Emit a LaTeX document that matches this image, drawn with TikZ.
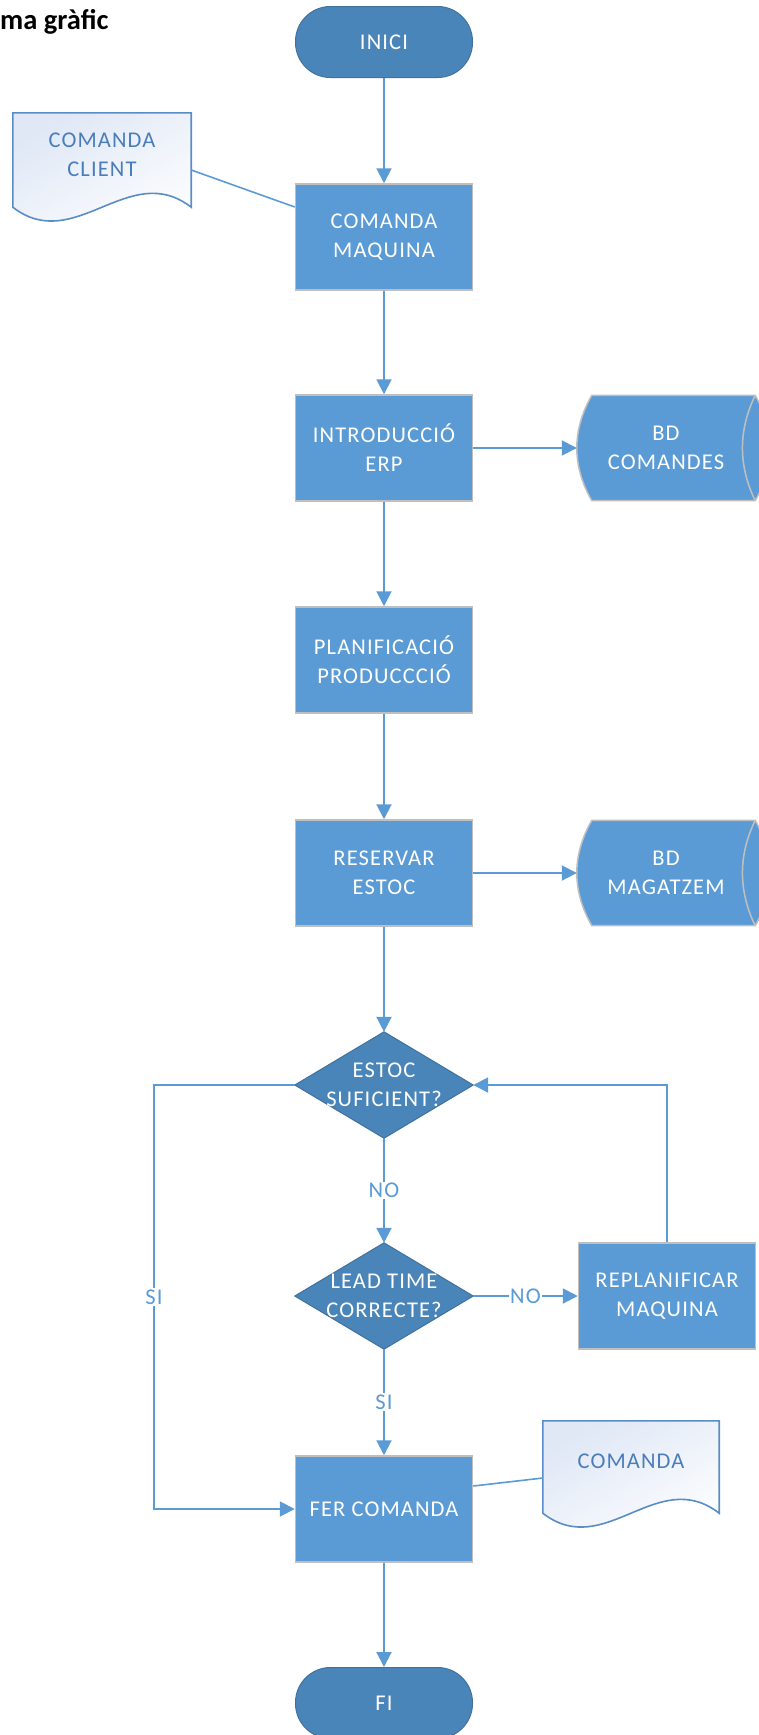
\documentclass[tikz,border=0pt]{standalone}
\usepackage{fontspec}
\setmainfont{Carlito}[LetterSpace=5]
\newfontfamily\headfont{Carlito}[LetterSpace=0]
\usetikzlibrary{arrows.meta,calc,backgrounds}

\definecolor{boxblue}{HTML}{5B9BD5}
\definecolor{darkblue}{HTML}{4A85BA}
\definecolor{edgeblue}{HTML}{41719C}
\definecolor{rimgray}{HTML}{BFBFBF}
\definecolor{doctext}{HTML}{4A7EBB}
\definecolor{docfill}{HTML}{E0E8F6}
\definecolor{docline}{HTML}{5A8DC8}

\newcommand\boxfont{\fontsize{22.5}{29}\selectfont}

\tikzset{
  proc/.style={rectangle, fill=boxblue, draw=rimgray, line width=1.5pt,
    minimum width=177pt, minimum height=106pt, inner sep=0pt,
    text=white, align=center, font=\boxfont},
  term/.style={rectangle, rounded corners=35pt, fill=darkblue, draw=edgeblue,
    line width=1pt, minimum width=177pt, minimum height=71pt, inner sep=0pt,
    text=white, align=center, font=\boxfont},
  deci/.style={rectangle, minimum width=178pt, minimum height=106pt,
    inner sep=0pt, text=white, align=center, font=\boxfont},
  decishape/.style={fill=darkblue, draw=edgeblue, line width=1pt},
  docnode/.style={rectangle, inner sep=0pt, text=doctext, align=center,
    font=\boxfont},
  docshape/.style={draw=docline, line width=1.6pt, top color=docfill,
    bottom color=white, shading angle=30},
  cylnode/.style={rectangle, inner sep=0pt, minimum width=178pt,
    minimum height=105pt, text=white, align=center, font=\boxfont},
  cylshape/.style={fill=boxblue, draw=rimgray, line width=1.5pt},
  arr/.style={draw=boxblue, line width=2pt, -{Triangle[length=15pt,width=15pt]}},
  link/.style={draw=boxblue, line width=1.6pt},
  lab/.style={fill=white, text=boxblue, inner sep=1.5pt, font=\boxfont},
}

\begin{document}
\begin{tikzpicture}[x=1pt, y=-1pt]
\useasboundingbox (0,0) rectangle (759,1735);

% heading
\node[anchor=base west, inner sep=0pt, font=\headfont\fontsize{28.5}{32}\selectfont\bfseries]
  (title) at (0,29) {ma gràfic};

% main column
\node[term] (inici) at (384,42)   {INICI};
\node[proc] (cm)    at (384,237)  {COMANDA\\MAQUINA};
\node[proc] (ie)    at (384,448)  {INTRODUCCIÓ\\ERP};
\node[proc] (pp)    at (384,660)  {PLANIFICACIÓ\\PRODUCCCIÓ};
\node[proc] (re)    at (384,873)  {RESERVAR\\ESTOC};
\node[deci] (d1)    at (384,1085) {ESTOC\\SUFICIENT?};
\node[deci] (d2)    at (384,1296) {LEAD TIME\\CORRECTE?};
\node[proc] (fc)    at (384,1509) {FER COMANDA};
\node[term] (fi)    at (384,1703) {FI};

% side elements
\node[proc] (rp) at (667,1296) {REPLANIFICAR\\MAQUINA};
\node[cylnode] (bdc) at (666,448) {BD\\COMANDES};
\node[cylnode] (bdm) at (666,873) {BD\\MAGATZEM};
\node[docnode, minimum width=178pt, minimum height=84pt] (cc) at (102,155) {COMANDA\\CLIENT};
\node[docnode, minimum width=176pt, minimum height=80pt] (co) at (631,1461) {COMANDA};

\coordinate (lx) at (154,0);

% outlines behind the texts
\begin{scope}[on background layer]
  \foreach \d in {d1,d2}{
    \path[decishape] (\d.north) -- (\d.east) -- (\d.south) -- (\d.west) -- cycle;
  }
  \foreach \c in {bdc,bdm}{
    \path[cylshape] ($(\c.north west)+(15,0)$) -- (\c.north east)
      .. controls +(20,35) and +(20,-35) .. (\c.south east)
      -- ($(\c.south west)+(15,0)$)
      .. controls +(-20,-35) and +(-20,35) .. ($(\c.north west)+(15,0)$) -- cycle;
    \draw[rimgray, line width=1.5pt] (\c.north east)
      .. controls +(-17,35) and +(-17,-35) .. (\c.south east);
  }
  \path[docshape] (cc.north west) -- (cc.north east) -- ([yshift=-10pt]cc.south east)
    .. controls +(-62,-48) and +(62,48) .. ([yshift=-10pt]cc.south west) -- cycle;
  \path[docshape] (co.north west) -- (co.north east) -- ([yshift=-12pt]co.south east)
    .. controls +(-62,-48) and +(62,48) .. ([yshift=-12pt]co.south west) -- cycle;
\end{scope}

% connectors
\draw[arr] (inici) -- (cm);
\draw[arr] (cm) -- (ie);
\draw[arr] (ie) -- (pp);
\draw[arr] (pp) -- (re);
\draw[arr] (re) -- (d1);
\draw[arr] (d1) -- node[lab] {NO} (d2);
\draw[arr] (d2) -- node[lab] {SI} (fc);
\draw[arr] (fc) -- (fi);
\draw[arr] (ie.east) -- (bdc.west);
\draw[arr] (re.east) -- (bdm.west);
\draw[arr] (d2.east) -- node[lab] {NO} (rp.west);
\draw[arr] (rp.north) |- (d1.east);
\draw[arr] (d1.west) -- (d1.west -| lx) -- node[lab] {SI} (fc.west -| lx) -- (fc.west);
\draw[link] ([yshift=-15pt]cc.east) -- ([yshift=30pt]cm.west);
\draw[link] ([yshift=-17pt]co.west) -- ([yshift=23pt]fc.east);
\end{tikzpicture}
\end{document}
